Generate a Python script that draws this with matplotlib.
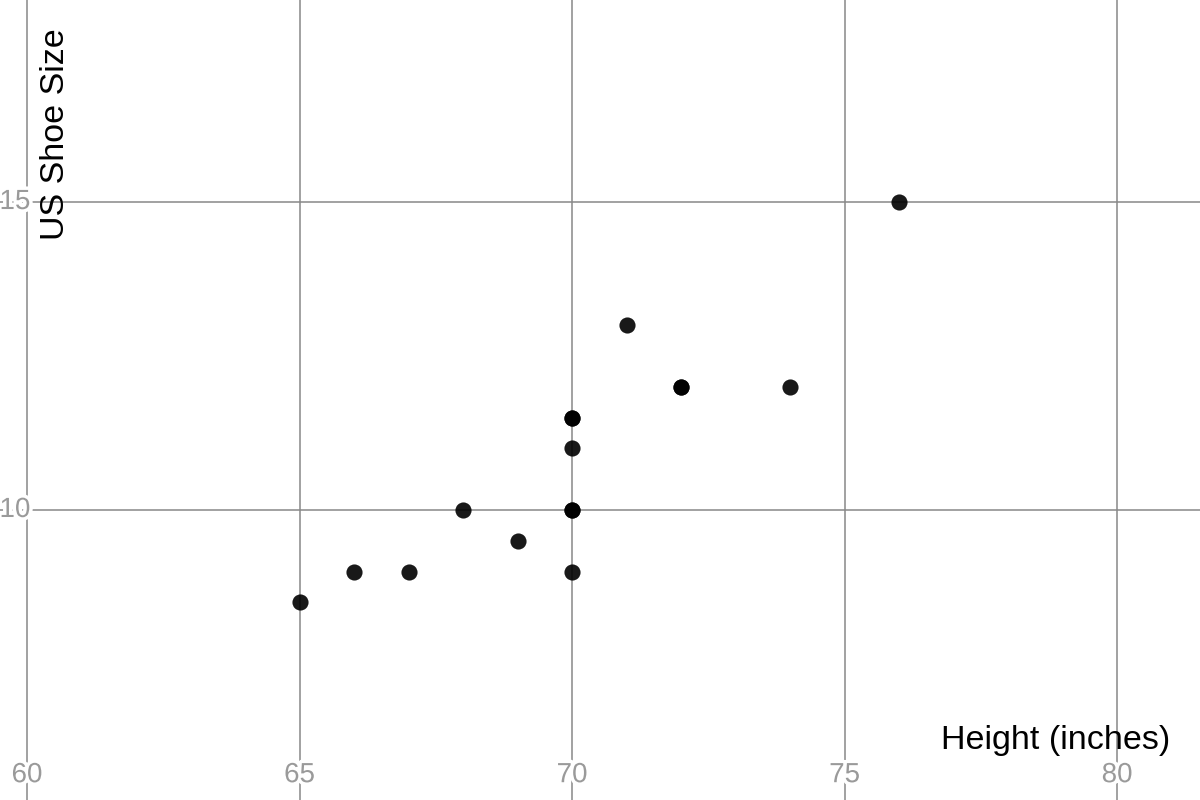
import matplotlib.pyplot as plt
import matplotlib.patheffects as pe

# heights (inches) and US shoe sizes, duplicates kept (they show darker)
height = [65, 66, 67, 68, 69, 70, 70, 70, 70, 70, 70, 71, 72, 72, 74, 76]
shoe = [8.5, 9, 9, 10, 9.5, 9, 10, 10, 11, 11.5, 11.5, 13, 12, 12, 12, 15]

xticks = [60, 65, 70, 75, 80]
yticks = [10, 15]

plt.rcParams['font.family'] = ['Liberation Sans', 'DejaVu Sans']

fig = plt.figure(figsize=(12, 8), dpi=100)
ax = fig.add_axes([0, 0, 1, 1])
ax.set_xlim(59.505, 81.52)
ax.set_ylim(5.292, 18.28)
ax.axis('off')

for x in xticks:
    ax.axvline(x, color='#888888', lw=1.1, zorder=1)
for y in yticks:
    ax.axhline(y, color='#888888', lw=1.1, zorder=1)

halo = [pe.withStroke(linewidth=5, foreground='white')]
for x in xticks:
    ax.text(x, 0.031, str(x), transform=ax.get_xaxis_transform(), ha='center',
            va='center', fontsize=20, color='#9a9a9a', path_effects=halo, zorder=2)
for y in yticks:
    ax.text(0.0125, y, str(y), transform=ax.get_yaxis_transform(), ha='center',
            va='center', fontsize=20, color='#9a9a9a', path_effects=halo, zorder=2)

ax.scatter(height, shoe, s=135, color='black', alpha=0.9, linewidths=0, zorder=3)

ax.text(0.046, 0.965, 'US Shoe Size', transform=ax.transAxes, rotation=90,
        ha='center', va='top', fontsize=24.5, color='black')
ax.text(0.975, 0.075, 'Height (inches)', transform=ax.transAxes,
        ha='right', va='center', fontsize=24.5, color='black')

plt.savefig('out.png')
